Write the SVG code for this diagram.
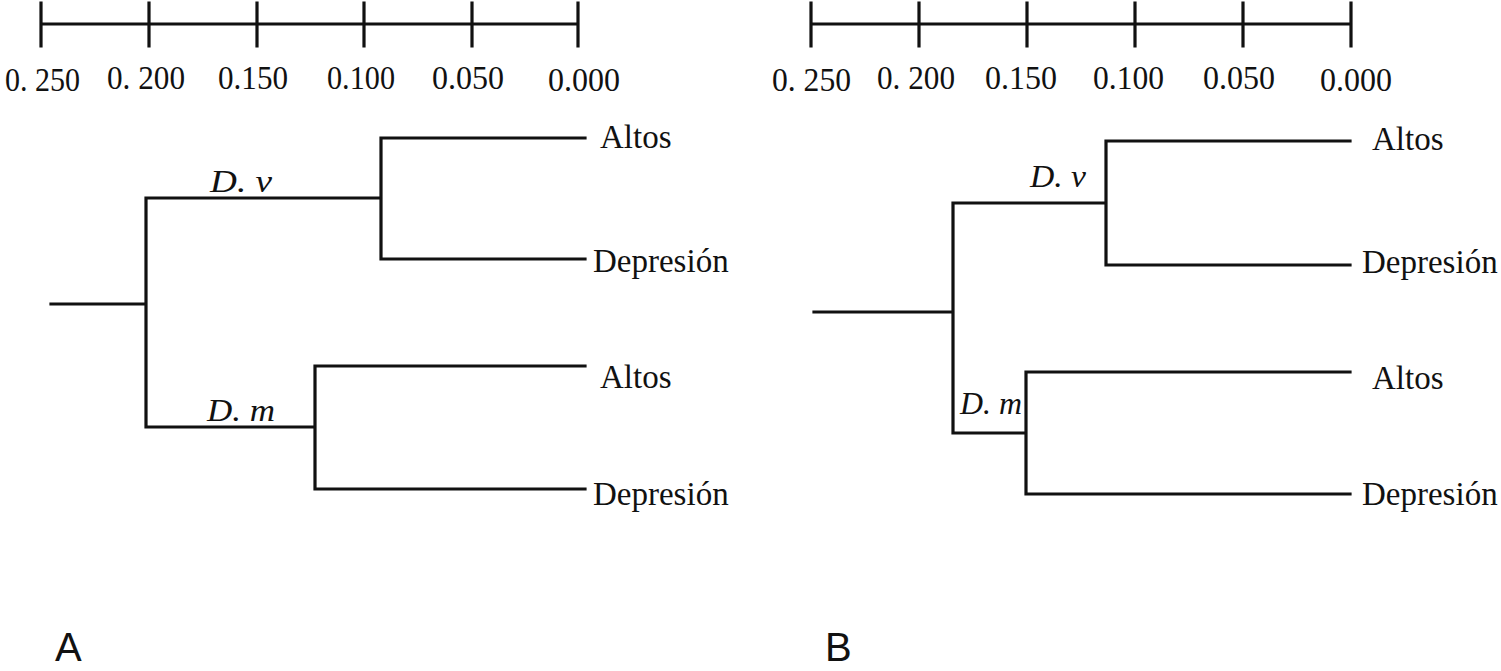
<svg xmlns="http://www.w3.org/2000/svg" width="1501" height="671" viewBox="0 0 1501 671">
<style>
.ln{stroke:#111;stroke-width:3.2;fill:none;stroke-linecap:square}
.sc{font-family:"Liberation Serif","Times New Roman",serif;font-size:34px;fill:#111}
.lf{font-family:"Liberation Serif","Times New Roman",serif;font-size:33px;fill:#111}
.sp{font-family:"Liberation Serif","Times New Roman",serif;font-size:32px;font-style:italic;fill:#111}
.pl{font-family:"Liberation Sans",Arial,sans-serif;font-size:40px;fill:#111}
</style>
<rect width="1501" height="671" fill="#fff"/>
<g id="scaleA">
<path class="ln" d="M41,24H578M41,3V46M149,3V46M257,3V46M364,3V46M472,3V46M578,3V46"/>
<text class="sc" x="5" y="91" textLength="75" lengthAdjust="spacingAndGlyphs">0. 250</text>
<text class="sc" x="107" y="89" textLength="78" lengthAdjust="spacingAndGlyphs">0. 200</text>
<text class="sc" x="218" y="89" textLength="70" lengthAdjust="spacingAndGlyphs">0.150</text>
<text class="sc" x="327" y="89" textLength="68" lengthAdjust="spacingAndGlyphs">0.100</text>
<text class="sc" x="432" y="89" textLength="72" lengthAdjust="spacingAndGlyphs">0.050</text>
<text class="sc" x="548" y="91" textLength="72" lengthAdjust="spacingAndGlyphs">0.000</text>
</g>
<g id="scaleB">
<path class="ln" d="M811,24H1351M811,3V46M919,3V46M1027,3V46M1135,3V46M1243,3V46M1351,3V46"/>
<text class="sc" x="772" y="91" textLength="79" lengthAdjust="spacingAndGlyphs">0. 250</text>
<text class="sc" x="877" y="89" textLength="78" lengthAdjust="spacingAndGlyphs">0. 200</text>
<text class="sc" x="985" y="89" textLength="72" lengthAdjust="spacingAndGlyphs">0.150</text>
<text class="sc" x="1093" y="89" textLength="71" lengthAdjust="spacingAndGlyphs">0.100</text>
<text class="sc" x="1203" y="89" textLength="72" lengthAdjust="spacingAndGlyphs">0.050</text>
<text class="sc" x="1320" y="91" textLength="72" lengthAdjust="spacingAndGlyphs">0.000</text>
</g>
<g id="connectors">
<path class="ln" d="M51,304H146M146,198V427M146,198H381M381,138V259M381,138H585M381,259H585M146,427H315M315,366V489M315,366H585M315,489H585"/>
<path class="ln" d="M814,312H953M953,203V433M953,203H1106M1106,141V265M1106,141H1350M1106,265H1350M953,433H1026M1026,372V494M1026,372H1350M1026,494H1350"/>
</g>
<g id="labelsA">
<text class="sp" x="210" y="192" textLength="62" lengthAdjust="spacingAndGlyphs">D. v</text>
<text class="sp" x="207" y="421" textLength="68" lengthAdjust="spacingAndGlyphs">D. m</text>
<text id="A-altos1" class="lf" x="600" y="148">Altos</text>
<text id="A-dep1" class="lf" x="593" y="272">Depresión</text>
<text id="A-altos2" class="lf" x="600" y="388">Altos</text>
<text id="A-dep2" class="lf" x="593" y="505">Depresión</text>
<text class="pl" x="55" y="661">A</text>
</g>
<g id="labelsB">
<text class="sp" x="1030" y="187" textLength="56" lengthAdjust="spacingAndGlyphs">D. v</text>
<text class="sp" x="960" y="414" textLength="62" lengthAdjust="spacingAndGlyphs">D. m</text>
<text id="B-altos1" class="lf" x="1372" y="150">Altos</text>
<text id="B-dep1" class="lf" x="1362" y="273">Depresión</text>
<text id="B-altos2" class="lf" x="1372" y="389">Altos</text>
<text id="B-dep2" class="lf" x="1362" y="505">Depresión</text>
<text class="pl" x="825" y="661">B</text>
</g>
</svg>
